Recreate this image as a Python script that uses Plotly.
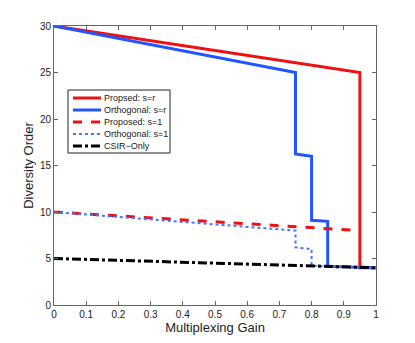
import plotly.graph_objects as go

# data
prop_r_x = [0, 0.95, 0.95, 1.0]
prop_r_y = [30, 25, 4, 4]
orth_r_x = [0, 0.75, 0.75, 0.80, 0.80, 0.85, 0.85, 1.0]
orth_r_y = [30, 25, 16.25, 16.0, 9.1, 9.0, 4.15, 4.0]
prop_1_x = [0, 0.95]
prop_1_y = [10, 8]
orth_1_x = [0, 0.75, 0.75, 0.80, 0.80, 1.0]
orth_1_y = [10, 8.0, 6.2, 6.0, 4.2, 4.0]
csir_x = [0, 1.0]
csir_y = [5, 4]

names = ["Propsed: s=r", "Orthogonal: s=r", "Proposed: s=1", "Orthogonal: s=1", "CSIR\u2212Only"]
styles = [
    dict(color="#ee1111", width=3),
    dict(color="#2255ff", width=3),
    dict(color="#ee1111", width=3, dash="dash"),
    dict(color="#4477ff", width=2, dash="dot"),
    dict(color="black", width=3, dash="dashdot"),
]
xs = [prop_r_x, orth_r_x, prop_1_x, orth_1_x, csir_x]
ys = [prop_r_y, orth_r_y, prop_1_y, orth_1_y, csir_y]

# the page body adds an 8px margin, so the figure is 8px smaller on each side
W, H = 407, 335
L, R, T, B = 46, 39, 18, 38


def px(x):  # page pixel -> paper fraction
    return (x - 54) / 322


def py(y):
    return (305 - y) / 279


fig = go.Figure()
for x, y, n, s in zip(xs, ys, names, styles):
    fig.add_trace(go.Scatter(x=x, y=y, mode="lines", name=n, line=s, showlegend=False))

# legend drawn by hand (MATLAB-style compact box)
fig.add_shape(type="rect", xref="paper", yref="paper", x0=px(68), x1=px(170), y0=py(153), y1=py(90),
              line=dict(color="#222", width=1), fillcolor="white", layer="above")
for i, (n, s) in enumerate(zip(names, styles)):
    yy = py(98 + 12 * i)
    fig.add_shape(type="line", xref="paper", yref="paper", x0=px(73), x1=px(101), y0=yy, y1=yy,
                  line=s, layer="above")
    fig.add_annotation(xref="paper", yref="paper", x=px(102), y=yy, text=n, showarrow=False,
                       xanchor="left", yanchor="middle", font=dict(size=9, color="#222"))

fig.update_layout(
    width=W, height=H,
    margin=dict(l=L, r=R, t=T, b=B),
    plot_bgcolor="white", paper_bgcolor="white",
    font=dict(family="Liberation Sans, Arial, sans-serif", color="#222", size=10),
    showlegend=False,
)
fig.update_xaxes(range=[0, 1], tickvals=[i / 10 for i in range(11)],
                 ticktext=["0", "0.1", "0.2", "0.3", "0.4", "0.5", "0.6", "0.7", "0.8", "0.9", "1"],
                 ticks="inside", ticklen=4, tickcolor="#666", mirror="ticks", showline=True,
                 linecolor="#666", linewidth=1, showgrid=False, zeroline=False, automargin=False,
                 title=dict(text="Multiplexing Gain", font=dict(size=13), standoff=2))
fig.update_yaxes(range=[0, 30], tickvals=[0, 5, 10, 15, 20, 25, 30],
                 ticks="inside", ticklen=4, tickcolor="#666", mirror="ticks", showline=True,
                 linecolor="#666", linewidth=1, showgrid=False, zeroline=False, automargin=False,
                 title=dict(text="Diversity Order", font=dict(size=13), standoff=3))

fig.write_html("out.html")
